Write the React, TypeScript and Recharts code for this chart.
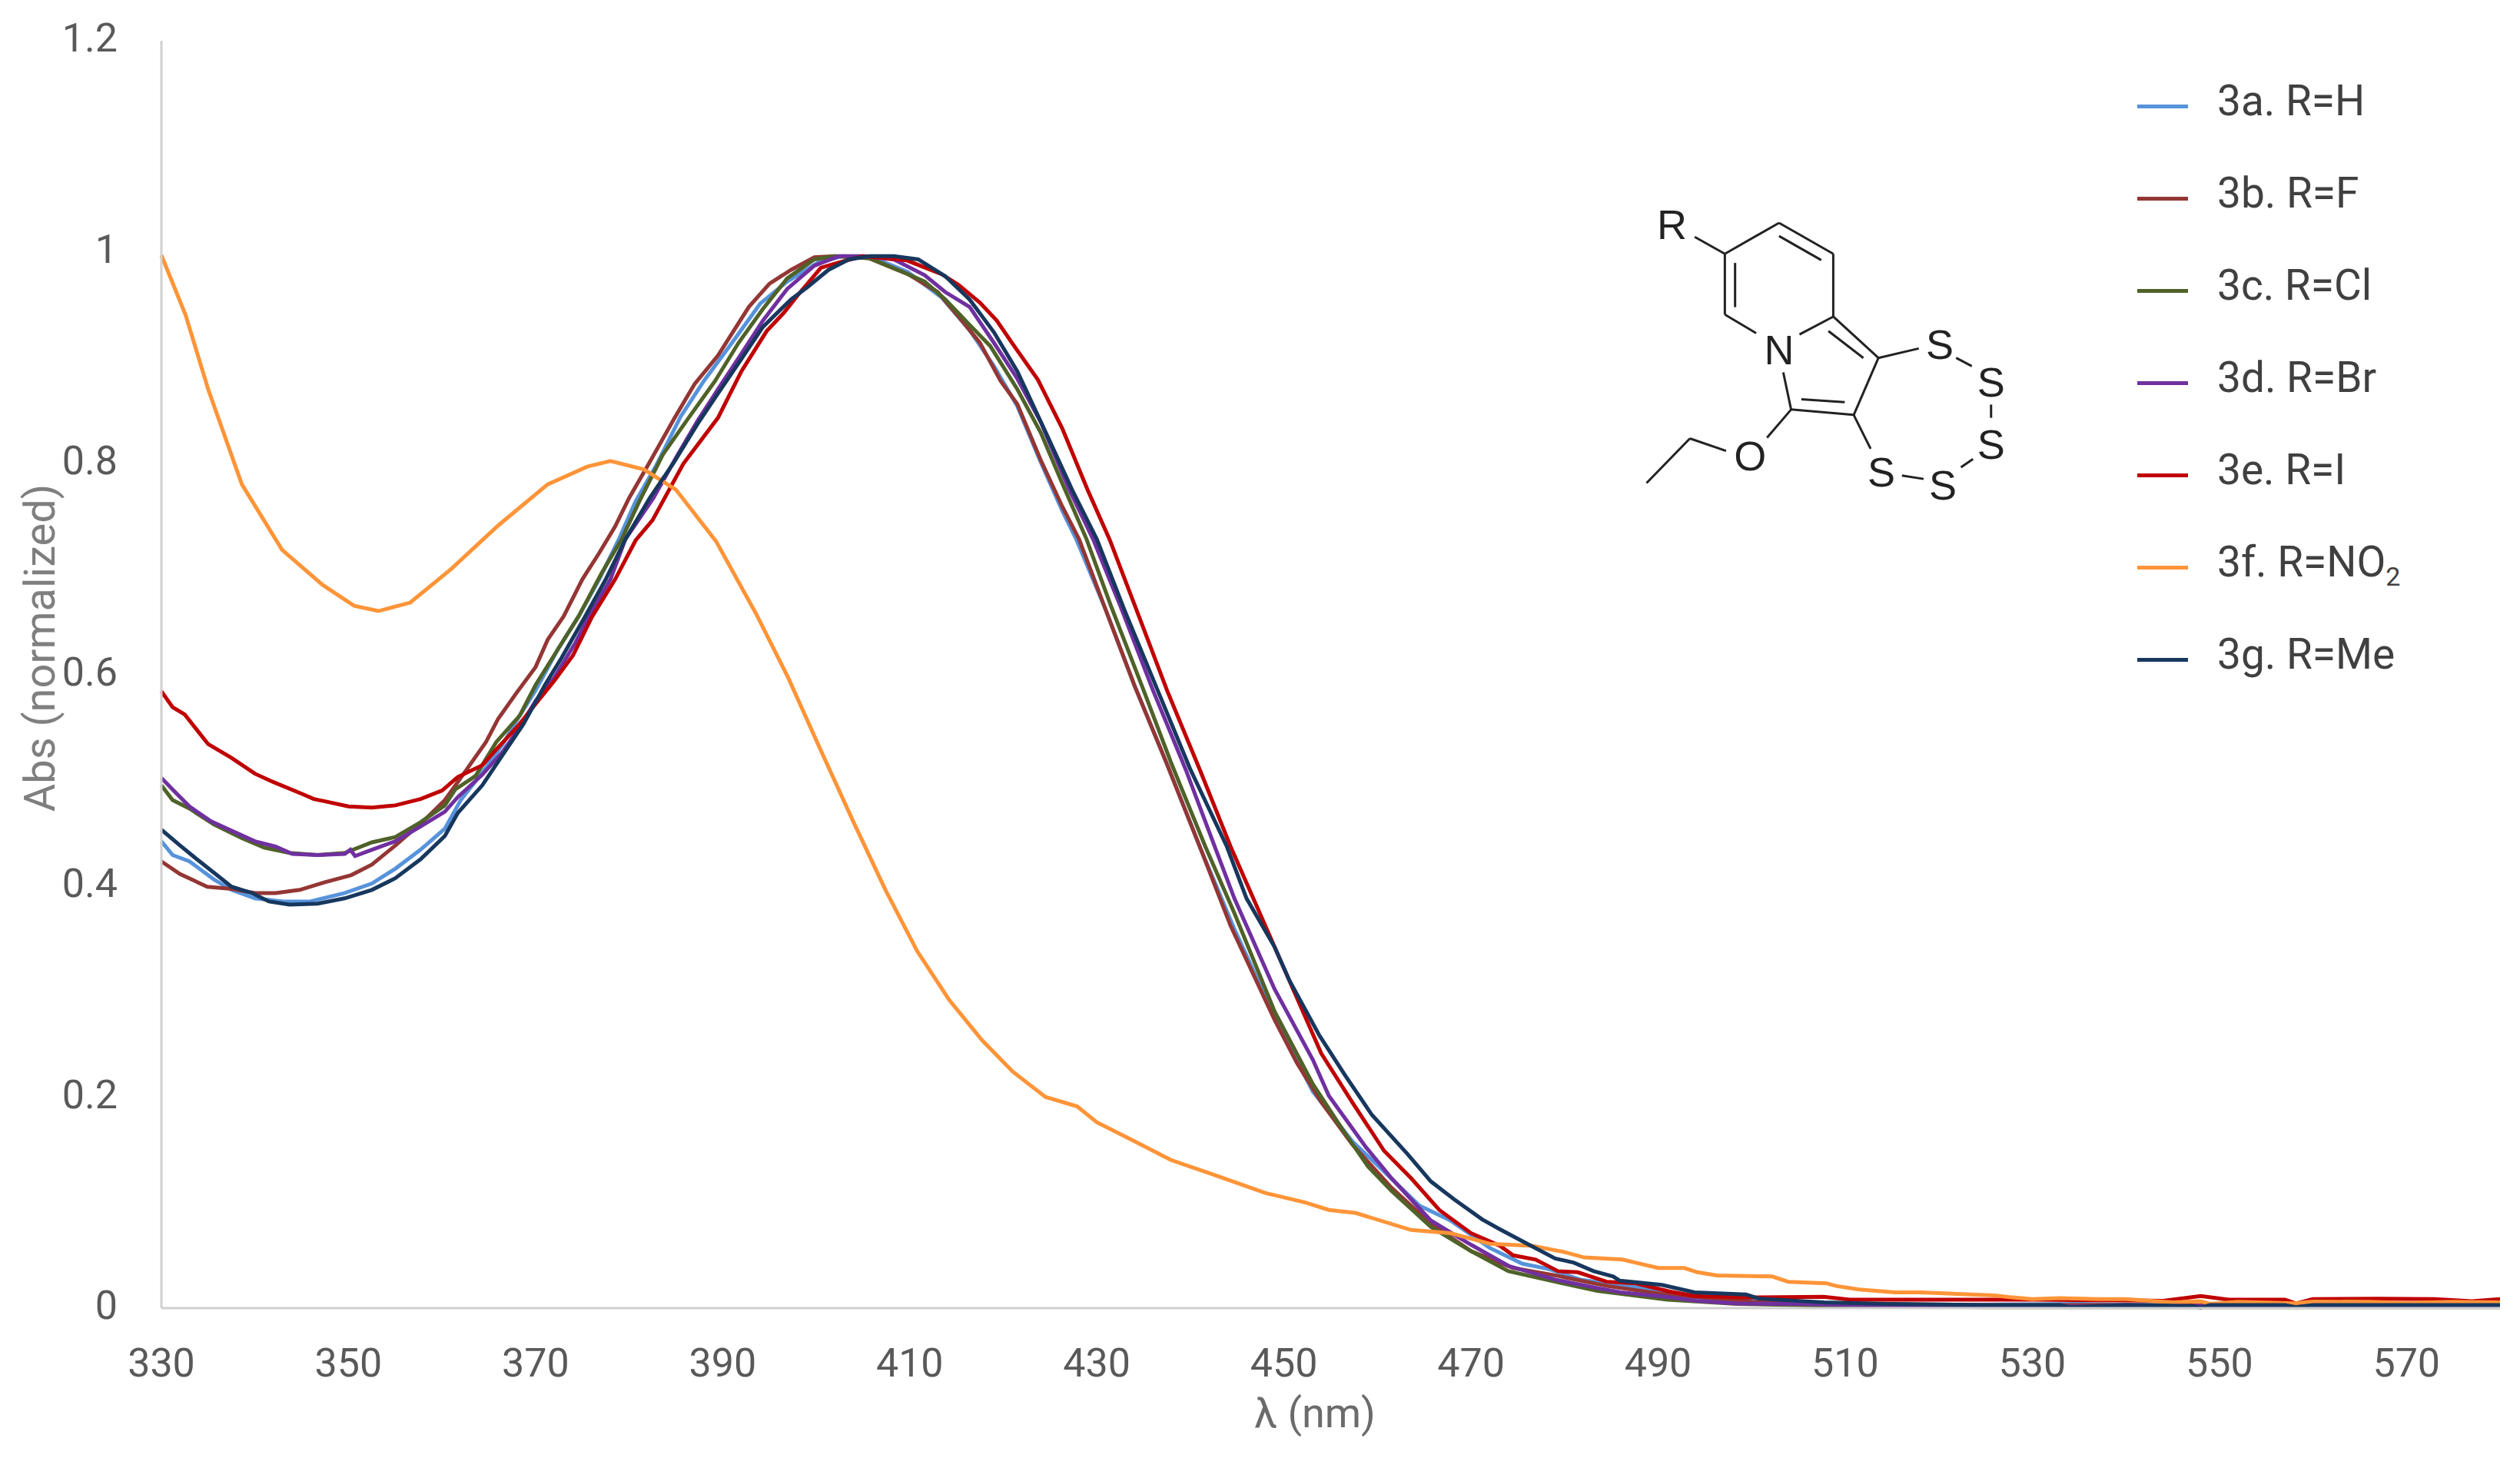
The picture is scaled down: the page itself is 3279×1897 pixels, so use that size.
import React from 'react';
import { LineChart, Line, XAxis, YAxis, Legend } from 'recharts';

const xTicks = [330, 350, 370, 390, 410, 430, 450, 470, 490, 510, 530, 550, 570];
const yTicks = [0, 0.2, 0.4, 0.6, 0.8, 1, 1.2];

const curveA = [[330,.442],[331.2,.429],[333,.423],[335.6,.406],[337.5,.396],[340,.388],[343,.385],[345.9,.385],[349.6,.393],[352.5,.402],[355,.416],[357.7,.434],[360.3,.454],[362,.481],[364.3,.507],[366.5,.534],[368.3,.561],[370,.585],[372.4,.624],[374.6,.655],[376.8,.69],[378.9,.728],[380.7,.764],[382.9,.798],[385.5,.844],[388,.878],[391,.914],[394,.951],[396.9,.972],[400.2,.99],[402.8,.996],[406,.995],[409.8,.981],[413.4,.957],[416.4,.926],[419,.892],[421.5,.854],[424,.801],[426.3,.755],[427.8,.728],[431,.66],[434,.59],[437.5,.515],[441,.437],[444.7,.359],[449,.276],[453.1,.205],[457.3,.158],[459.8,.137],[464.5,.097],[467.8,.083],[472,.057],[475.5,.042],[478.3,.037],[481.7,.027],[488.3,.019],[492,.012],[497,.008],[505,.005],[520,.003],[535,.004],[548,.002],[560,.003],[572,.004],[580,.003]];
const curveB = [[330,.423],[332,.411],[334.9,.399],[337.5,.397],[340,.393],[342.2,.393],[344.8,.396],[347.4,.403],[350.3,.41],[352.5,.42],[355,.438],[358,.461],[360.3,.481],[362,.502],[364.7,.536],[366,.558],[368,.583],[370,.607],[371.3,.633],[373,.655],[375,.69],[376.8,.715],[378.5,.74],[380,.767],[382.2,.801],[384.8,.842],[387,.875],[389.5,.902],[392.8,.948],[395,.97],[397.3,.983],[399.8,.995],[402,.996],[405.7,.994],[409.8,.979],[413,.962],[415.3,.938],[417.5,.914],[419.7,.878],[421.5,.856],[424,.803],[426.3,.759],[428.1,.728],[431,.66],[434,.59],[437.5,.515],[441,.437],[444.3,.362],[449,.273],[451.4,.232],[454,.195],[457.3,.155],[461.5,.114],[465.7,.08],[470,.054],[474.5,.038],[479,.031],[484.5,.021],[490.4,.0135],[500,.006],[510,.004],[525,.003],[540,.003],[560,.002],[580,.003]];
const curveC = [[330,.495],[331.2,.481],[333,.473],[335.6,.458],[338.6,.445],[341,.436],[343.7,.431],[346.7,.429],[349.6,.431],[352.5,.441],[355,.446],[357.7,.46],[360.3,.476],[361.4,.491],[363.6,.504],[365.8,.536],[368.3,.561],[370,.59],[372.4,.624],[374.6,.655],[377,.695],[379.2,.728],[381.1,.764],[383.6,.808],[386.2,.841],[389.2,.878],[391.7,.914],[394.3,.946],[396.9,.975],[399.8,.993],[402,.996],[405.7,.994],[409.8,.979],[411.6,.972],[413.8,.955],[416.4,.931],[418.6,.911],[421.5,.87],[424,.829],[426.3,.781],[428.9,.728],[431.5,.665],[435,.585],[438,.515],[441.6,.437],[444.7,.374],[449,.281],[453.1,.212],[456.5,.166],[459,.134],[461.5,.111],[465.7,.077],[470,.054],[474,.035],[479,.025],[483.5,.0164],[491,.008],[498.4,.004],[510,.002],[525,.001],[545,.001],[565,.001],[580,.001]];
const curveD = [[330,.502],[331.2,.491],[333,.475],[335.3,.461],[337.5,.452],[340,.442],[342.2,.437],[344,.43],[346.7,.429],[349.6,.43],[350.2,.434],[350.7,.428],[352.5,.434],[355,.442],[357.7,.456],[360.3,.47],[361.7,.484],[364.3,.505],[366.5,.527],[368,.546],[370,.575],[372,.597],[374.2,.629],[375.7,.655],[378,.69],[379.6,.728],[382.6,.767],[385,.805],[387.3,.84],[389.5,.87],[392.1,.905],[394.3,.935],[396.9,.965],[399.8,.987],[402.4,.996],[405,.996],[408.3,.993],[411.6,.978],[413.8,.962],[416.4,.948],[419,.914],[421.5,.88],[424,.839],[427,.776],[429.6,.728],[432.5,.665],[436,.585],[439.5,.51],[442.6,.437],[444.7,.388],[449,.302],[453.1,.235],[454.8,.201],[458.8,.152],[461.5,.123],[465.7,.083],[470,.06],[474,.04],[479,.027],[483.5,.019],[486,.015],[491,.0105],[494,.007],[498.4,.0043],[505,.004],[511,.003],[525,.002],[540,.0015],[555,.002],[570,.002],[580,.002]];
const curveE = [[330,.584],[331.2,.569],[332.5,.562],[335,.534],[337.5,.521],[340,.506],[342,.498],[345,.487],[346.3,.482],[347.4,.48],[350,.475],[352.5,.474],[355,.476],[357.7,.482],[360,.49],[361.7,.503],[364.3,.514],[366,.531],[368,.55],[370,.572],[372,.594],[374,.618],[376,.654],[378.5,.69],[380.7,.727],[382.5,.746],[385.8,.7995],[389.5,.843],[392,.887],[394.7,.925],[396.5,.942],[398.3,.962],[400.5,.985],[402.4,.99],[405,.996],[409.7,.992],[413.4,.979],[415.2,.969],[417.5,.952],[419.3,.935],[421,.913],[423.7,.879],[426.3,.833],[429,.775],[431.4,.727],[434.5,.655],[437.5,.585],[441,.51],[444.3,.437],[449,.342],[454,.241],[457.3,.195],[460.7,.149],[463.6,.123],[466.6,.093],[470,.071],[473.1,.059],[474.5,.05],[476.9,.046],[479.3,.035],[481.4,.034],[484.5,.025],[487.6,.0235],[491.1,.016],[493.9,.0115],[499.4,.01],[507.7,.0108],[510.5,.008],[520,.008],[530,.008],[537,.0075],[544,.007],[548,.0115],[551,.008],[557,.008],[558.2,.0045],[560,.0085],[567,.009],[573,.0085],[577,.0065],[580,.0085]];
const curveF = [[330,.997],[332.6,.94],[335,.87],[338.6,.78],[342.9,.718],[347.2,.685],[350.6,.665],[353.2,.66],[356.6,.668],[361,.7],[366,.741],[371.3,.78],[375.6,.797],[378,.802],[381.6,.794],[385,.775],[389.3,.726],[393.6,.657],[397,.597],[400.5,.528],[404,.46],[407.4,.396],[410.8,.338],[414.2,.292],[417.7,.254],[421,.224],[424.5,.2],[427.9,.191],[430,.176],[433.8,.159],[438,.14],[442.6,.126],[448,.109],[452.3,.1],[454.8,.093],[457.7,.09],[463.6,.074],[467.8,.071],[472,.061],[476.6,.059],[480,.053],[482.1,.048],[486.2,.046],[487.6,.043],[490,.038],[492.8,.038],[494.2,.034],[496.3,.031],[502.2,.03],[503.9,.025],[508,.0235],[509,.021],[511.5,.0177],[515.3,.015],[518,.015],[526,.012],[527.4,.0105],[530,.0085],[533,.0095],[537,.0085],[540,.0085],[545,.0055],[548,.0065],[549,.004],[552,.006],[558,.0045],[560,.0062],[566,.006],[570,.005],[575,.006],[580,.0055]];
const curveG = [[330,.453],[332,.438],[333.8,.425],[335.8,.411],[337.5,.399],[339.7,.393],[341.5,.385],[343.7,.382],[346.7,.383],[349.6,.388],[352.5,.396],[355,.407],[357.7,.425],[360.3,.447],[361.7,.469],[364.3,.495],[366.5,.524],[368.7,.553],[371,.59],[372.8,.616],[375.3,.655],[377.5,.69],[379.6,.728],[382.2,.767],[384.8,.801],[387.3,.837],[389.5,.866],[392.1,.9],[394.3,.929],[397.3,.955],[399.1,.967],[401.3,.983],[403.5,.993],[405.7,.996],[408.3,.996],[410.9,.993],[413.8,.977],[416.4,.955],[419,.924],[421.5,.887],[424.5,.83],[427.4,.774],[430,.728],[433,.66],[436.5,.585],[440,.51],[443.9,.437],[446,.388],[449,.342],[450.6,.31],[453.8,.258],[456.5,.221],[459.4,.183],[463.2,.146],[465.7,.12],[468.2,.103],[471.2,.084],[473.1,.0746],[476.2,.06],[479,.047],[481,.043],[483.1,.035],[485.2,.03],[485.9,.026],[490.4,.022],[493.9,.015],[499.4,.013],[500.8,.009],[507.7,.0055],[514.6,.004],[525,.003],[533,.003],[534,.001],[540,.003],[547,.002],[548,.0005],[549,.003],[557,.003],[558.2,.001],[560,.003],[570,.003],[580,.003]];

const series = [
  { name: '3a. R=H', color: '#5793DC', points: curveA },
  { name: '3b. R=F', color: '#943634', points: curveB },
  { name: '3c. R=Cl', color: '#4F6228', points: curveC },
  { name: '3d. R=Br', color: '#7030A0', points: curveD },
  { name: '3e. R=I', color: '#C00000', points: curveE },
  { name: '3f. R=NO2', color: '#FF9438', points: curveF },
  { name: '3g. R=Me', color: '#17375E', points: curveG },
];

const FONT = 'Roboto, sans-serif';

const LegendRows = ({ payload }: any) => (
  <div style={{ fontFamily: FONT }}>
    {(payload || []).map((entry: any) => {
      const m = /^(.*NO)(2)$/.exec(entry.value);
      return (
        <div key={entry.value} style={{ position: 'relative', height: 120 }}>
          <div style={{ position: 'absolute', left: 0, top: 58, width: 66, height: 5, background: entry.color }} />
          <div style={{ position: 'absolute', left: 104, top: 18, fontSize: 55, lineHeight: '70px', color: '#404040', whiteSpace: 'nowrap' }}>
            {m ? <>{m[1]}<sub style={{ fontSize: 34, lineHeight: 0 }}>{m[2]}</sub></> : entry.value}
          </div>
        </div>
      );
    })}
  </div>
);

const XTitle = () => (
  <text x={1711} y={1843} textAnchor="middle" dominantBaseline="middle" fontSize={54} fontFamily={FONT} fill="#6b6b6b">λ (nm)</text>
);
const YTitle = () => (
  <text x={56} y={843} transform="rotate(-90 56 843)" textAnchor="middle" dominantBaseline="middle" fontSize={56} fontFamily={FONT} fill="#7f7f7f">Abs (normalized)</text>
);

const bonds = [
  [248,503,338,428],[338,428,428,503],[428,503,428,655],[428,655,372,698],[300,695,248,650],[248,650,248,503],
  [265,525,265,632],[338,460,408,518],[198,462,248,503],
  [428,655,503,755],[420,690,478,755],[503,755,462,893],[462,893,358,880],[447,862,375,855],[358,880,345,790],
  [503,755,570,732],[462,893,490,975],[358,880,318,948],[250,980,190,950],[190,950,118,1058],
  [632,755,658,775],[690,868,690,900],[660,1000,640,1020],[578,1048,542,1040],
];
const atoms = [
  ['R',160,430],['N',338,733],['O',290,990],['S',605,720],['S',690,812],['S',690,962],['S',610,1060],['S',508,1030],
];
const mx = (X: number) => 2050 + X / 1.276;
const my = (Y: number) => 60 + Y / 1.861;

const Molecule = () => (
  <svg width={3279} height={1897} style={{ position: 'absolute', left: 0, top: 0, pointerEvents: 'none' }}>
    {bonds.map((b, i) => (
      <line key={i} x1={mx(b[0])} y1={my(b[1])} x2={mx(b[2])} y2={my(b[3])} stroke="#222" strokeWidth={3} />
    ))}
    {atoms.map((a, i) => (
      <text key={i} x={mx(a[1] as number)} y={my(a[2] as number) + 20} textAnchor="middle" fontSize={54} fontFamily="'Liberation Sans', sans-serif" fill="#222">
        {a[0]}
      </text>
    ))}
  </svg>
);

export default function App() {
  return (
    <div style={{ position: 'absolute', left: 0, top: 0, width: 3279, height: 1897, background: '#fff' }}>
      <LineChart width={3279} height={1897} margin={{ top: 53, right: 26, bottom: 0, left: 0 }}>
        <XAxis
          type="number"
          dataKey="x"
          domain={[330, 580]}
          ticks={xTicks}
          allowDuplicatedCategory={false}
          height={195}
          tickLine={false}
          tickMargin={46}
          axisLine={{ stroke: '#D0D0D0', strokeWidth: 3 }}
          tick={{ fontSize: 52, fontFamily: FONT, fill: '#595959' }}
          label={<XTitle />}
        />
        <YAxis
          type="number"
          domain={[0, 1.2]}
          ticks={yTicks}
          width={210}
          tickLine={false}
          tickMargin={51}
          axisLine={{ stroke: '#D0D0D0', strokeWidth: 3 }}
          tick={{ fontSize: 52, fontFamily: FONT, fill: '#595959', dy: -4 }}
          label={<YTitle />}
        />
        {series.map((s) => (
          <Line
            key={s.name}
            name={s.name}
            data={s.points.map(([x, y]) => ({ x, y }))}
            dataKey="y"
            type="linear"
            stroke={s.color}
            strokeWidth={5}
            dot={false}
            isAnimationActive={false}
          />
        ))}
        <Legend
          layout="vertical"
          align="center"
          verticalAlign="middle"
          content={<LegendRows />}
          wrapperStyle={{ left: 2781, top: 78, width: 460, right: 'auto', bottom: 'auto', margin: 0 }}
        />
      </LineChart>
      <Molecule />
    </div>
  );
}
